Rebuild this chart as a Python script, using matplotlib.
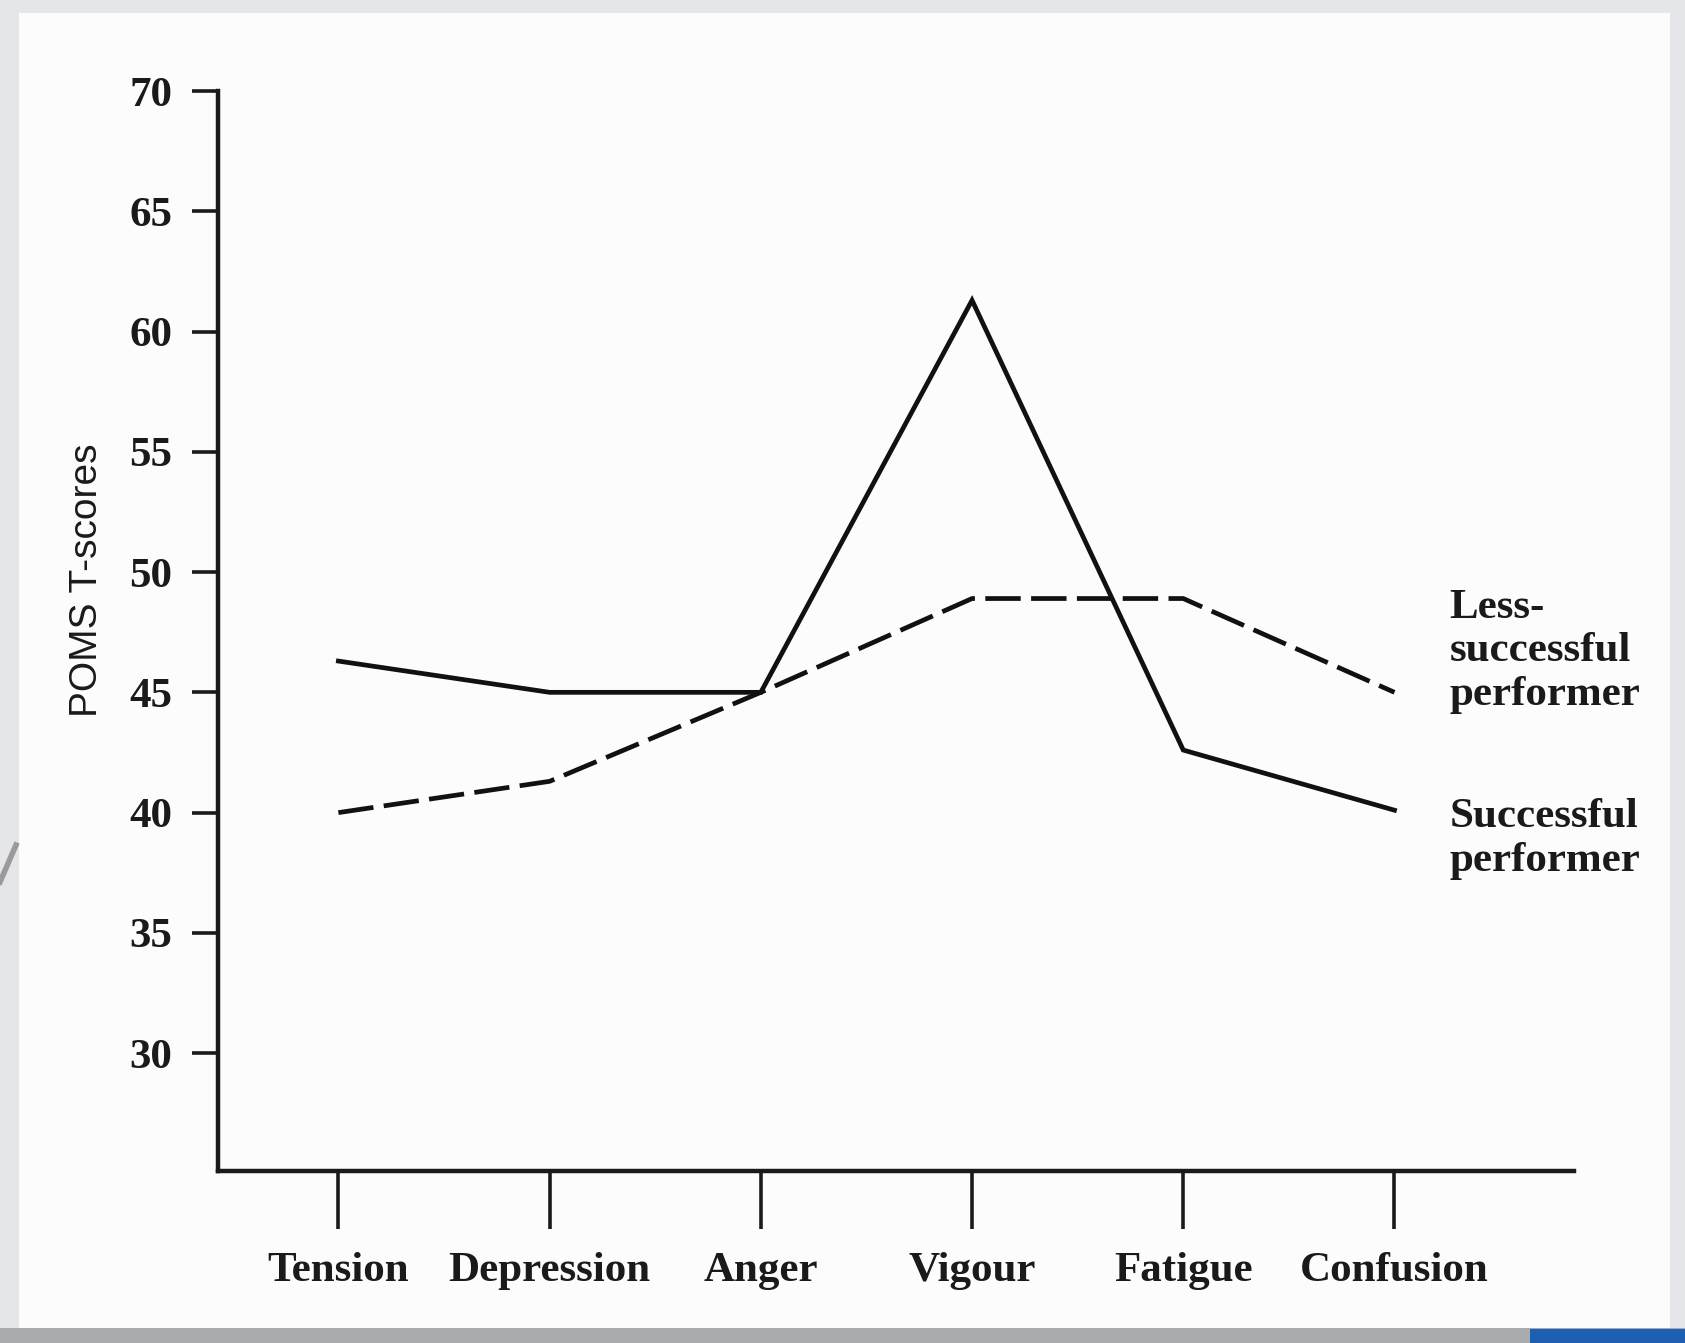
import matplotlib
matplotlib.use("Agg")
import matplotlib.pyplot as plt
from matplotlib.patches import Rectangle
from matplotlib.lines import Line2D

# POMS profile values
scales = ["Tension", "Depression", "Anger", "Vigour", "Fatigue", "Confusion"]
successful = [46.3, 45.0, 45.0, 61.3, 42.6, 40.1]
less_successful = [40.0, 41.3, 45.0, 48.9, 48.9, 45.0]
yticks = [30, 35, 40, 45, 50, 55, 60, 65, 70]

W, H = 1685, 1343
fig = plt.figure(figsize=(W / 100, H / 100), dpi=100)
fig.patch.set_facecolor("#e4e6ea")

# slide panel behind the scanned chart
fig.add_artist(Rectangle((0, 0), 1, 15 / H, transform=fig.transFigure,
                         facecolor="#a9abae", edgecolor="none", zorder=0))
fig.add_artist(Rectangle((19 / W, 15 / H), (1670 - 19) / W, (1330 - 15) / H,
                         transform=fig.transFigure, facecolor="#fcfcfc",
                         edgecolor="none", zorder=0))
fig.add_artist(Rectangle((1530 / W, 0), (W - 1530) / W, 14 / H,
                         transform=fig.transFigure, facecolor="#1d5fb0",
                         edgecolor="none", zorder=1))
fig.add_artist(Line2D([0, 16 / W], [1 - 882 / H, 1 - 845 / H],
                      transform=fig.transFigure, color="#9a9a9a", lw=4, zorder=1))

ax = fig.add_axes([218 / W, 1 - 1171 / H, (1574 - 218) / W, (1171 - 91) / H])
ax.set_facecolor("none")

x = list(range(len(scales)))
ax.plot(x, successful, color="#111111", lw=3.4, solid_joinstyle="miter")
ax.plot(x, less_successful, color="#111111", lw=3.4, dashes=(7.5, 2.2))

ax.set_xlim(-0.57, 5.85)
ax.set_ylim(25.1, 70)

for s in ["top", "right"]:
    ax.spines[s].set_visible(False)
for s in ["left", "bottom"]:
    ax.spines[s].set_linewidth(3.2)
    ax.spines[s].set_color("#1a1a1a")

serif = ["Liberation Serif", "DejaVu Serif"]

ax.set_yticks(yticks)
ax.set_yticklabels([str(v) for v in yticks], fontsize=31, fontweight="bold",
                   family=serif, color="#1a1a1a")
ax.set_xticks(x)
ax.set_xticklabels(scales, fontsize=31, fontweight="bold", family=serif,
                   color="#1a1a1a")
ax.tick_params(axis="y", direction="out", length=19, width=2.6, pad=14,
               color="#1a1a1a")
ax.tick_params(axis="x", direction="out", length=42, width=2.6, pad=16,
               color="#1a1a1a")

ax.set_ylabel("POMS T-scores", fontsize=28, family=["Liberation Sans", "DejaVu Sans"],
              color="#1a1a1a")
ax.yaxis.set_label_coords(-0.083, 0.547)

ax.text(5.26, 46.7, "Less-\nsuccessful\nperformer", fontsize=31, fontweight="bold",
        family=serif, va="center", ha="left", linespacing=1.2, color="#1a1a1a",
        clip_on=False)
ax.text(5.26, 38.9, "Successful\nperformer", fontsize=31, fontweight="bold",
        family=serif, va="center", ha="left", linespacing=1.2, color="#1a1a1a",
        clip_on=False)

fig.savefig("out.png", dpi=100, facecolor=fig.get_facecolor())
